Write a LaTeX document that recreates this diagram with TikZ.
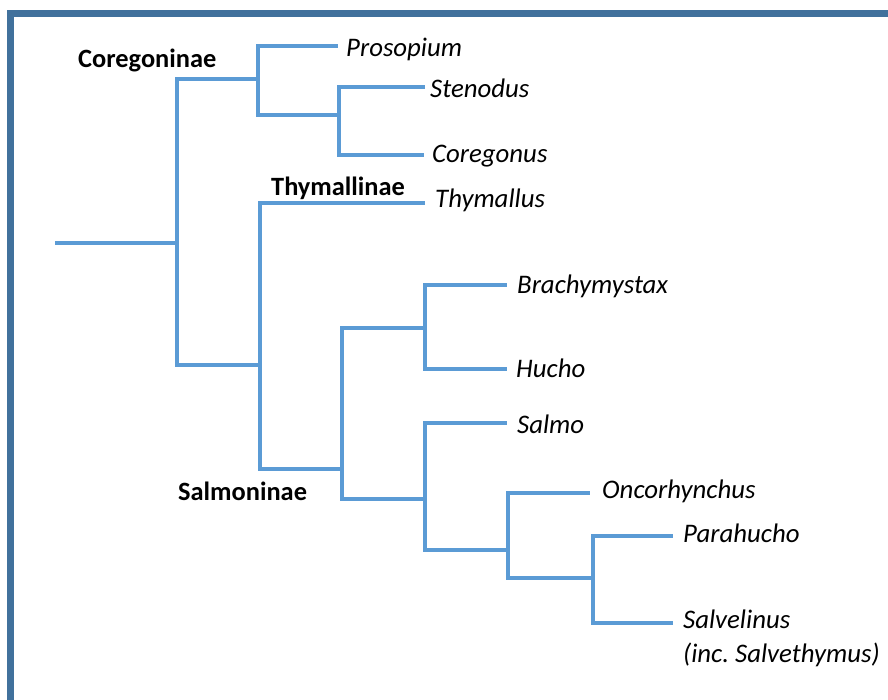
\documentclass[tikz,border=0pt]{standalone}
\usepackage{fontspec}
\setmainfont{Carlito}
\definecolor{treeblue}{HTML}{5B9BD5}
\definecolor{frameblue}{HTML}{41719C}
\begin{document}
\begin{tikzpicture}[x=1pt,y=-1pt,
  tl/.style={draw=treeblue, line width=3.6pt, line join=miter,
    preaction={draw=black!28, line width=4.6pt}},
  leaf/.style={font=\fontsize{26.8}{33}\selectfont\itshape, anchor=west,
    inner ysep=0pt, inner xsep=9pt, text height=20pt, text depth=#1},
  leaf/.default=4pt,
  clade/.style={font=\fontsize{26.4}{32}\selectfont\bfseries, anchor=base west, inner sep=0pt}]
\useasboundingbox (0,0) rectangle (888,699);
% frame
\draw[frameblue, line width=6.5pt, line join=miter] (10.3,720) -- (10.3,13.4) -- (900,13.4);

% internal branch points
\coordinate (root) at (55,243);
\coordinate (n1) at (177,243);
\coordinate (n2) at (258,79);
\coordinate (n3) at (339,115);
\coordinate (n4) at (260,365);
\coordinate (n5) at (342,469);
\coordinate (n6) at (425,328);
\coordinate (n7) at (425,499);
\coordinate (n8) at (508,550);
\coordinate (n9) at (593,578);

% leaves
\node[leaf=0pt, inner xsep=8pt] (pros) at (338,46) {Prosopium};
\node[leaf=0pt, inner xsep=5pt] (sten) at (425,87) {Stenodus};
\node[leaf=6pt, inner xsep=8pt] (coreg) at (424,155) {Coregonus};
\node[leaf=12pt, inner xsep=10pt] (thym) at (425,203) {Thymallus};
\node[leaf=4pt, inner xsep=10pt] (brach) at (507,285) {Brachymystax};
\node[leaf=4pt, inner xsep=9pt] (hucho) at (507,369) {Hucho};
\node[leaf=0pt, inner xsep=10pt] (salmo) at (507,423) {Salmo};
\node[leaf=10pt, inner xsep=12pt] (onco) at (590,493) {Oncorhynchus};
\node[leaf=8pt, inner xsep=10pt] (para) at (673,536) {Parahucho};
\node[leaf=10pt, inner xsep=10pt] (salv) at (673,623) {Salvelinus};
\node[font=\fontsize{26.8}{33}\selectfont\itshape, anchor=base west, inner sep=0pt] (salvinc) at (683,662) {(inc.\ Salvethymus)};

% clade labels
\node[clade] (coregoninae) at (78,67) {Coregoninae};
\node[clade] (thymallinae) at (271,195) {Thymallinae};
\node[clade] (salmoninae) at (178,500) {Salmoninae};

% connectors
\draw[tl] (root) -- (n1);
\draw[tl] (n1) |- (n2);
\draw[tl] (n1) |- (n4);
\draw[tl] (n2) |- (pros.west);
\draw[tl] (n2) |- (n3);
\draw[tl] (n3) |- (sten.west);
\draw[tl] (n3) |- (coreg.west);
\draw[tl] (n4) |- (thym.west);
\draw[tl] (n4) |- (n5);
\draw[tl] (n5) |- (n6);
\draw[tl] (n5) |- (n7);
\draw[tl] (n6) |- (brach.west);
\draw[tl] (n6) |- (hucho.west);
\draw[tl] (n7) |- (salmo.west);
\draw[tl] (n7) |- (n8);
\draw[tl] (n8) |- (onco.west);
\draw[tl] (n8) |- (n9);
\draw[tl] (n9) |- (para.west);
\draw[tl] (n9) |- (salv.west);
\end{tikzpicture}
\end{document}
